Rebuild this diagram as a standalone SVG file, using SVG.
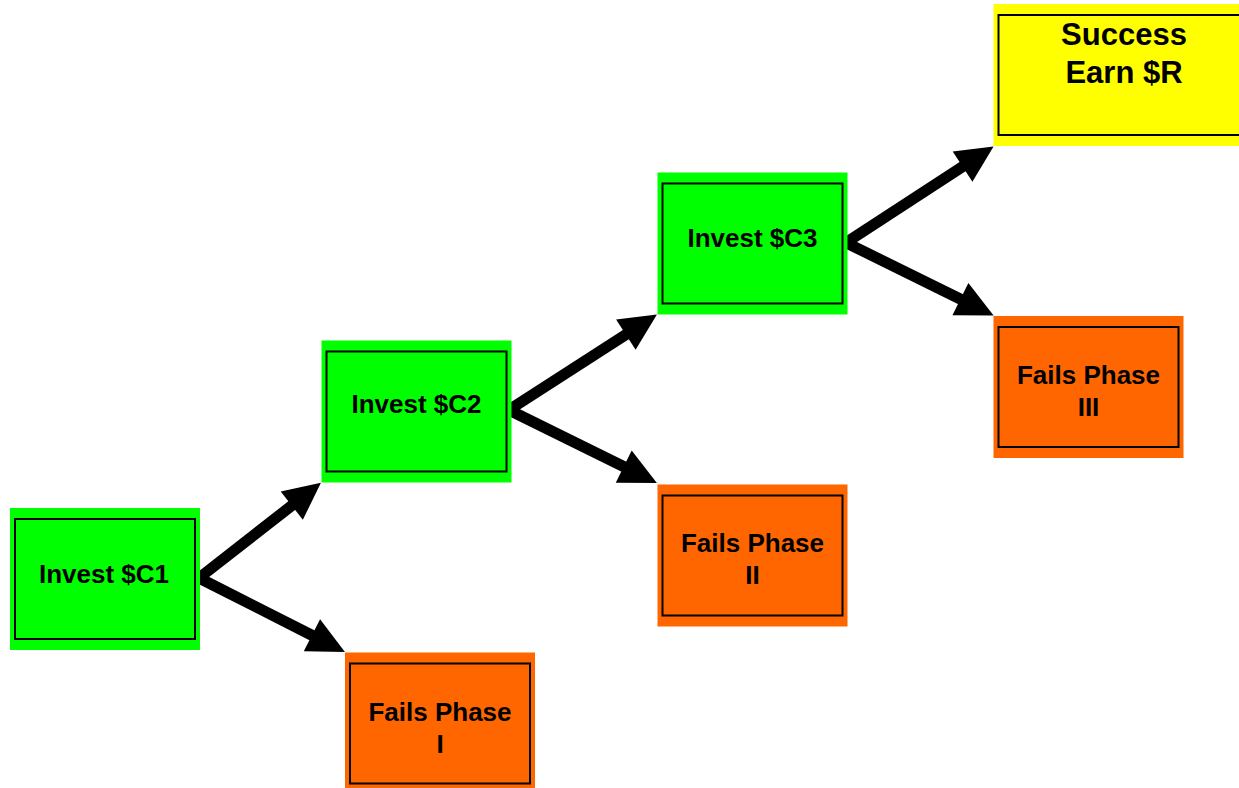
<svg xmlns="http://www.w3.org/2000/svg" width="1239" height="788" viewBox="0 0 1239 788">
<style>
.outer{stroke:none}
.green{fill:#00ff00}
.orange{fill:#ff6600}
.yellow{fill:#ffff00}
.inner{fill:none;stroke:#000;stroke-width:2}
.lbl{font-family:"Liberation Sans",Arial,Helvetica,sans-serif;font-weight:bold;font-size:26px;fill:#000;text-anchor:middle}
.big{font-size:31px}
.conn{stroke:#000;stroke-width:11;fill:none;marker-end:url(#head)}
</style>
<defs>
<marker id="head" markerUnits="userSpaceOnUse" markerWidth="38" markerHeight="36" refX="6" refY="18" orient="auto" overflow="visible">
<path d="M0,0 L37,18 L0,36 z" fill="#000"/>
</marker>
</defs>
<rect width="1239" height="788" fill="#fff"/>
<g id="connectors">
<line class="conn" x1="199" y1="578" x2="296.5" y2="501.9"/>
<line class="conn" x1="199" y1="578" x2="317.3" y2="638"/>
<line class="conn" x1="509" y1="410" x2="630.9" y2="331.4"/>
<line class="conn" x1="509" y1="410" x2="629.1" y2="469.3"/>
<line class="conn" x1="846" y1="242.7" x2="967.6" y2="163.4"/>
<line class="conn" x1="846" y1="242.7" x2="965.8" y2="301.7"/>
</g>
<g id="invest1">
<rect class="outer green" x="10" y="508" width="190" height="142"/>
<rect class="inner" x="15" y="519" width="180" height="120"/>
<text class="lbl" x="104" y="583">Invest $C1</text>
</g>
<g id="invest2">
<rect class="outer green" x="321.5" y="340.5" width="190" height="142"/>
<rect class="inner" x="326.5" y="351.5" width="180" height="120"/>
<text class="lbl" x="416.5" y="413">Invest $C2</text>
</g>
<g id="invest3">
<rect class="outer green" x="657.5" y="172.5" width="190" height="142"/>
<rect class="inner" x="662.5" y="183.5" width="180" height="120"/>
<text class="lbl" x="752.5" y="247">Invest $C3</text>
</g>
<g id="fail1">
<rect class="outer orange" x="345" y="652.5" width="190" height="142"/>
<rect class="inner" x="350" y="663.5" width="180" height="120"/>
<text class="lbl" x="440" y="721">Fails Phase</text>
<text class="lbl" x="440" y="753">I</text>
</g>
<g id="fail2">
<rect class="outer orange" x="657.5" y="484.5" width="190" height="142"/>
<rect class="inner" x="662.5" y="495.5" width="180" height="120"/>
<text class="lbl" x="752.5" y="552">Fails Phase</text>
<text class="lbl" x="752.5" y="584">II</text>
</g>
<g id="fail3">
<rect class="outer orange" x="993.5" y="316" width="190" height="142"/>
<rect class="inner" x="998.5" y="327" width="180" height="120"/>
<text class="lbl" x="1088.5" y="383.5">Fails Phase</text>
<text class="lbl" x="1088.5" y="416">III</text>
</g>
<g id="success">
<rect class="outer yellow" x="993.5" y="4" width="262" height="142"/>
<rect class="inner" x="998.5" y="15" width="252" height="120"/>
<text class="lbl big" x="1124" y="44.5">Success</text>
<text class="lbl big" x="1124" y="83">Earn $R</text>
</g>
</svg>
